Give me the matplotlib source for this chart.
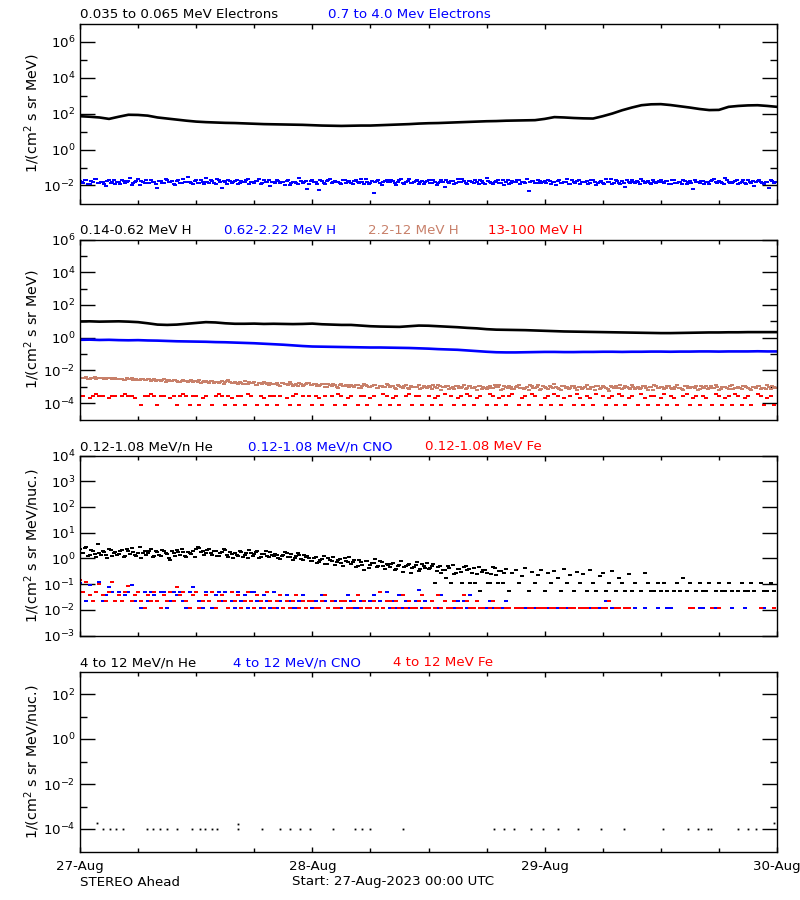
import numpy as np
import matplotlib
matplotlib.use('Agg')
import matplotlib.pyplot as plt
from matplotlib.ticker import FixedLocator, FixedFormatter, NullFormatter

N = np.nan

# ---------------- data (log10 of flux) ----------------
day_labels = ['27-Aug', '28-Aug', '29-Aug', '30-Aug']
day_hours = [0, 24, 48, 72]

# Panel 1: electrons (hourly line; 20-min samples, second set offset by 10 min)
elec_lo_log = [1.85, 1.82, 1.78, 1.70, 1.82, 1.93, 1.92, 1.88, 1.78, 1.72,
               1.66, 1.60, 1.55, 1.52, 1.50, 1.48, 1.47, 1.45, 1.43, 1.41,
               1.40, 1.39, 1.38, 1.37, 1.35, 1.33, 1.32, 1.31, 1.32, 1.33,
               1.33, 1.35, 1.37, 1.39, 1.41, 1.44, 1.46, 1.47, 1.49, 1.51,
               1.53, 1.55, 1.57, 1.58, 1.60, 1.61, 1.62, 1.63, 1.70, 1.80,
               1.78, 1.75, 1.73, 1.72, 1.85, 2.00, 2.18, 2.33, 2.46, 2.51,
               2.52, 2.47, 2.40, 2.33, 2.25, 2.19, 2.20, 2.37, 2.42, 2.45,
               2.46, 2.42, 2.37]

elec_hi_log = [-1.75, -1.85, -1.70, -1.92, -1.80, -1.66, -1.88, -1.78, -2.05, -1.72, -1.83, -1.90,
               -1.79, -1.68, -1.86, -1.74, -1.95, -1.81, -1.62, -1.77, -1.88, -1.84, -1.70, -1.79,
               -2.12, -1.76, -1.85, -1.69, -1.80, -1.91, -1.73, -1.87, -1.65, -1.82, -1.78, -1.94,
               -1.71, -1.86, -1.79, -1.58, -1.84, -1.76, -1.89, -1.72, -2.15, -1.81, -1.69, -1.85,
               -1.77, -1.92, -1.74, -1.83, -1.63, -1.80, -1.87, -1.75, -1.90, -1.70, -1.82, -2.02,
               -1.78, -1.67, -1.88, -1.81, -1.73, -1.96, -1.79, -1.84, -1.60, -1.86, -1.76, -1.89,
               -1.72, -1.83, -2.25, -1.77, -1.90, -1.68, -1.85, -1.74, -1.81, -1.93, -1.70, -1.79,
               -1.87, -1.75, -1.82, -1.64, -1.91, -1.78, -1.84, -2.42, -1.73, -1.88, -1.80, -1.69,
               -1.83, -1.76, -1.95, -1.71, -1.86, -1.79, -1.62, -1.85, -1.77, -1.90, -1.74, -1.81,
               -1.68, -1.88, -1.78, -1.84, -1.72, -2.08, -1.80, -1.75, -1.89, -1.66, -1.83, -1.77,
               -1.91, -1.73, -1.86, -1.79, -1.70, -1.85, -1.61, -1.82, -1.94, -1.76, -1.87, -1.72,
               -1.80, -1.92, -1.74, -1.83, -1.67, -1.79, -1.88, -2.32, -1.75, -1.84, -1.71, -1.86,
               -1.77, -1.69, -1.90, -1.81, -1.73, -1.86, -1.78, -1.64, -1.89, -1.80, -1.75, -1.93,
               -1.82, -1.74, -1.87, -1.70, -1.95, -1.79, -1.84, -1.66, -1.78, -1.91, -1.72, -1.85,
               -1.76, -2.10, -1.83, -1.71, -1.88, -1.80, -1.63, -1.86, -1.74, -1.90, -1.79, -1.82,
               -1.69, -1.85, -1.77, -1.93, -1.72, -1.84, -1.80, -1.67, -1.89, -1.75, -2.18, -1.81,
               -1.86, -1.73, -1.79, -1.91, -1.68, -1.83, -1.76, -1.88, -1.61, -1.80, -1.85, -1.74,
               -1.90, -1.78, -1.84, -1.70, -1.87, -2.05, -1.75, -1.82, -1.93, -1.79, -1.72, -1.86]

elec_hi_log_b = [-1.82, -1.71, -1.89, -1.77, -1.64, -1.86, -1.79, -1.93, -1.73, -1.84, -1.68, -1.81,
                 -1.90, -1.76, -1.83, -1.60, -1.87, -1.74, -1.98, -1.80, -1.69, -1.85, -1.78, -1.92,
                 -1.73, -1.88, -1.66, -1.81, -1.76, -1.95, -1.70, -1.84, -1.79, -1.52, -1.86, -1.75,
                 -1.84, -1.69, -1.91, -1.78, -1.72, -1.87, -1.63, -1.82, -1.77, -1.94, -1.74, -1.80,
                 -1.67, -1.85, -1.79, -1.72, -1.90, -1.81, -1.76, -1.65, -1.88, -1.83, -1.71, -1.79,
                 -1.86, -1.74, -1.81, -1.97, -1.69, -1.84, -1.78, -1.90, -1.73, -1.82, -2.20, -1.77,
                 -1.80, -1.91, -1.68, -1.85, -1.75, -1.62, -1.83, -1.79, -1.88, -1.71, -1.86, -1.74,
                 -1.93, -1.70, -1.84, -1.78, -1.66, -1.89, -1.76, -1.82, -1.69, -1.95, -1.75, -1.83,
                 -1.71, -1.87, -1.80, -1.64, -1.92, -1.74, -1.85, -1.79, -1.68, -1.83, -1.90, -1.76,
                 -1.85, -1.72, -1.96, -1.79, -1.81, -1.67, -1.88, -1.74, -1.84, -1.78, -1.63, -1.87,
                 -1.76, -1.83, -1.70, -1.89, -1.77, -1.92, -1.73, -1.86, -1.80, -1.69, -1.84, -1.95,
                 -1.69, -1.86, -1.79, -1.72, -1.91, -1.81, -1.65, -1.83, -1.77, -1.88, -1.74, -1.80,
                 -1.87, -1.75, -1.82, -1.98, -1.70, -1.84, -1.79, -1.91, -1.72, -1.85, -1.67, -1.81,
                 -1.78, -1.92, -1.71, -1.83, -1.86, -1.74, -1.89, -1.80, -1.62, -1.84, -1.77, -1.90,
                 -1.84, -1.69, -1.87, -1.79, -1.73, -1.93, -1.76, -1.82, -1.88, -1.70, -1.85, -1.75,
                 -1.81, -1.77, -1.90, -1.68, -1.85, -1.79, -1.94, -1.73, -1.82, -1.87, -1.71, -1.78,
                 -1.74, -1.89, -1.82, -1.76, -1.64, -1.86, -1.80, -1.93, -1.72, -1.84, -1.79, -1.68,
                 -1.85, -1.72, -1.91, -1.80, -1.76, -1.83, -1.69, -1.88, -1.78, -2.12, -1.74, -1.82]

# Panel 2: protons
h_lo_log = [0.99, 1.00, 0.98, 0.99, 1.00, 0.98, 0.95, 0.88, 0.80, 0.78,
            0.80, 0.85, 0.90, 0.95, 0.93, 0.88, 0.85, 0.85, 0.86, 0.84,
            0.85, 0.84, 0.83, 0.84, 0.86, 0.82, 0.80, 0.78, 0.78, 0.74,
            0.70, 0.68, 0.67, 0.66, 0.70, 0.74, 0.73, 0.70, 0.67, 0.64,
            0.60, 0.57, 0.52, 0.49, 0.48, 0.47, 0.46, 0.44, 0.42, 0.40,
            0.38, 0.37, 0.36, 0.35, 0.34, 0.33, 0.32, 0.31, 0.30, 0.29,
            0.28, 0.28, 0.29, 0.30, 0.31, 0.32, 0.32, 0.33, 0.33, 0.34,
            0.34, 0.34, 0.34]

h_mid_log = [-0.13, -0.12, -0.14, -0.13, -0.15, -0.16, -0.15, -0.17, -0.18, -0.20,
             -0.22, -0.23, -0.24, -0.25, -0.27, -0.28, -0.30, -0.32, -0.34, -0.37,
             -0.40, -0.43, -0.47, -0.51, -0.54, -0.55, -0.56, -0.57, -0.58, -0.59,
             -0.60, -0.60, -0.61, -0.62, -0.63, -0.65, -0.67, -0.70, -0.72, -0.74,
             -0.78, -0.82, -0.86, -0.89, -0.90, -0.90, -0.89, -0.88, -0.87, -0.87,
             -0.88, -0.88, -0.87, -0.87, -0.86, -0.86, -0.87, -0.86, -0.86, -0.85,
             -0.85, -0.86, -0.85, -0.85, -0.84, -0.84, -0.85, -0.84, -0.84, -0.84,
             -0.83, -0.84, -0.84]

h_hi_log = [-2.45, -2.48, -2.43, -2.50, -2.46, -2.52, -2.47, -2.44, -2.51, -2.49, -2.53, -2.48,
            -2.55, -2.50, -2.58, -2.52, -2.49, -2.56, -2.60, -2.53, -2.57, -2.51, -2.62, -2.55,
            -2.58, -2.65, -2.54, -2.61, -2.67, -2.57, -2.63, -2.70, -2.59, -2.66, -2.62, -2.72,
            -2.64, -2.58, -2.71, -2.67, -2.75, -2.62, -2.69, -2.78, -2.66, -2.73, -2.60, -2.76,
            -2.70, -2.82, -2.74, -2.67, -2.86, -2.77, -2.72, -2.90, -2.79, -2.68, -2.84, -2.75,
            -2.81, -2.74, -2.93, -2.78, -2.86, -2.72, -2.95, -2.83, -2.79, -2.98, -2.85, -2.76,
            -2.90, -2.82, -2.97, -2.86, -3.02, -2.80, -2.93, -2.88, -3.05, -2.84, -2.96, -2.91,
            -2.87, -3.00, -2.92, -3.08, -2.85, -2.97, -3.03, -2.89, -3.10, -2.94, -2.99, -2.86,
            -3.02, -2.93, -3.12, -2.96, -3.06, -2.88, -3.15, -2.99, -3.04, -2.91, -3.09, -3.00,
            -2.95, -3.11, -3.03, -2.90, -3.18, -3.01, -2.94, -3.07, -3.13, -2.97, -3.05, -2.89,
            -3.10, -2.98, -3.06, -3.20, -2.93, -3.04, -3.12, -2.96, -3.08, -3.00, -2.87, -3.14,
            -3.03, -2.95, -3.16, -3.01, -2.91, -3.09, -3.05, -3.22, -2.97, -3.07, -2.92, -3.11,
            -2.99, -3.13, -3.04, -2.86, -3.08, -3.17, -2.96, -3.02, -3.10, -2.94, -3.19, -3.01,
            -3.06, -2.90, -3.11, -3.03, -2.98, -3.15, -2.93, -3.07, -3.24, -3.00, -2.95, -3.09,
            -3.12, -2.97, -3.05, -2.88, -3.14, -3.02, -3.08, -2.96, -3.18, -3.04, -2.91, -3.10,
            -3.00, -3.16, -2.94, -3.07, -3.11, -2.89, -3.05, -3.20, -2.98, -3.09, -3.03, -2.93,
            -3.13, -3.01, -2.96, -3.10, -3.06, -2.92, -3.17, -3.04, -2.99, -3.12, -2.87, -3.07,
            -3.02, -3.14, -2.95, -3.08, -3.21, -3.00, -2.94, -3.11, -3.05, -2.90, -3.15, -3.03]

h_hi_log_b = [-2.47, -2.44, -2.50, -2.46, -2.42, -2.49, -2.45, -2.52, -2.48, -2.46, -2.51, -2.54,
              -2.52, -2.57, -2.49, -2.54, -2.59, -2.51, -2.56, -2.53, -2.61, -2.55, -2.58, -2.63,
              -2.61, -2.56, -2.68, -2.60, -2.64, -2.58, -2.69, -2.63, -2.66, -2.72, -2.60, -2.67,
              -2.69, -2.74, -2.63, -2.70, -2.66, -2.77, -2.68, -2.72, -2.80, -2.65, -2.71, -2.74,
              -2.77, -2.71, -2.80, -2.85, -2.73, -2.79, -2.88, -2.74, -2.81, -2.76, -2.87, -2.80,
              -2.84, -2.89, -2.77, -2.83, -2.91, -2.80, -2.87, -2.94, -2.82, -2.88, -2.78, -2.92,
              -2.86, -2.94, -2.89, -2.83, -2.99, -2.91, -2.85, -3.01, -2.90, -2.95, -2.87, -3.04,
              -2.93, -2.88, -3.05, -2.96, -2.91, -3.02, -2.98, -2.90, -3.07, -2.95, -3.01, -2.92,
              -2.98, -3.05, -2.92, -3.01, -2.97, -3.10, -2.94, -3.03, -2.99, -3.13, -2.96, -3.06,
              -3.01, -2.92, -3.08, -2.98, -3.04, -2.93, -3.11, -3.00, -2.95, -3.09, -3.02, -3.16,
              -2.96, -3.07, -3.01, -2.94, -3.13, -3.05, -2.99, -3.10, -2.91, -3.04, -3.18, -2.97,
              -3.08, -3.00, -3.12, -2.95, -3.06, -3.14, -3.02, -2.92, -3.09, -3.04, -3.19, -2.98,
              -3.05, -2.93, -3.10, -3.02, -3.16, -2.97, -3.07, -3.12, -2.94, -3.05, -3.01, -3.14,
              -2.99, -3.11, -3.04, -3.21, -2.95, -3.08, -3.01, -3.13, -2.97, -3.06, -3.10, -2.92,
              -3.07, -3.02, -3.15, -2.99, -3.05, -3.11, -2.93, -3.09, -3.03, -3.17, -2.98, -3.06,
              -3.04, -3.09, -2.97, -3.13, -3.01, -3.07, -3.15, -2.95, -3.10, -3.02, -3.08, -3.19,
              -2.98, -3.06, -3.12, -2.94, -3.09, -3.03, -3.16, -3.00, -3.07, -2.93, -3.11, -3.05,
              -3.09, -2.97, -3.04, -3.14, -3.00, -3.10, -2.96, -3.06, -3.13, -3.01, -2.95, -3.08]

h_top_log = [-3.58, -3.58, N, -3.67, -3.58, -3.42, -3.58, -3.58, N, -3.67, -3.58, -3.58,
             N, -3.58, -3.42, -3.58, -3.58, -3.67, N, -4.13, -3.58, -3.58, -3.42, -3.58,
             -4.13, -3.58, -3.58, N, -3.67, -3.58, -4.13, -3.58, -3.42, -3.58, -4.13, -3.58,
             -3.58, -4.13, -3.67, -3.58, N, -4.13, -3.58, -3.42, -3.58, -4.13, -3.58, -3.67,
             -4.13, -3.58, -3.58, -4.13, -3.42, -3.58, N, -4.13, -3.58, -3.67, -4.13, -3.58,
             -3.58, -4.13, -3.58, N, -3.67, -4.13, -3.58, -3.42, -4.13, -3.58, N, -3.58,
             -4.13, -3.58, -3.67, -4.13, -3.58, N, -3.58, -4.13, -3.42, -3.58, -4.13, -3.67,
             -3.58, N, -4.13, -3.58, -3.58, -4.13, -3.67, -3.58, N, -4.13, -3.42, -3.58,
             -4.13, -3.67, -3.58, -4.13, N, -3.58, -3.42, -4.13, -3.58, -3.58, -4.13, N,
             -3.58, -4.13, -3.67, -3.58, -4.13, -3.42, N, -3.58, -4.13, -3.67, -3.58, -4.13,
             -3.42, -3.58, -4.13, -3.67, -3.58, N, -4.13, -3.42, -3.58, -4.13, -3.67, -3.58,
             -4.13, -3.58, -3.42, N, -4.13, -3.67, -3.58, -4.13, -3.42, -3.58, N, -4.13,
             -3.67, -3.58, -4.13, -3.42, -3.58, -4.13, -3.67, N, -3.58, -4.13, -3.42, -3.67,
             -4.13, -3.58, -3.67, -4.13, -3.42, N, -3.58, -4.13, -3.67, -3.58, -4.13, -3.42,
             -3.58, -4.13, -3.67, -3.58, N, -4.13, -3.42, -3.67, -4.13, -3.58, -3.58, -4.13,
             -3.67, -3.42, -4.13, -3.58, -3.67, -4.13, N, -3.58, -3.42, -4.13, -3.67, -3.58,
             -4.13, -3.58, -3.67, N, -4.13, -3.42, -3.58, -4.13, -3.67, -3.58, -4.13, -3.42,
             -3.58, -4.13, -3.67, -3.58, -4.13, N, -3.42, -3.58, -4.13, -3.67, -3.58, -4.13]

# Panel 3: low-energy heavy ions
he_lo_log = [0.35, 0.20, 0.45, 0.12, 0.28, 0.05, 0.22, 0.30, 0.15, 0.38, 0.10, 0.25,
             0.18, 0.32, 0.08, 0.27, 0.40, 0.14, 0.22, 0.03, 0.30, 0.19, 0.35, 0.11,
             0.24, 0.09, 0.29, 0.16, -0.05, 0.21, 0.33, 0.12, 0.26, 0.07, 0.19, 0.28,
             0.38, 0.42, 0.30, 0.22, 0.35, 0.15, 0.27, 0.10, 0.24, 0.31, 0.05, 0.18,
             0.20, 0.08, 0.25, 0.13, 0.02, 0.22, 0.16, 0.28, 0.06, 0.17, 0.11, 0.23,
             0.09, 0.15, -0.02, 0.12, 0.20, 0.04, -0.08, 0.10, 0.14, -0.05, 0.07, 0.01,
             -0.10, 0.05, -0.15, -0.03, -0.20, 0.02, -0.12, -0.25, -0.06, -0.18, 0.00, -0.14,
             -0.22, -0.08, -0.30, -0.16, -0.45, -0.12, -0.26, -0.19, -0.35, -0.10, -0.28, -0.21,
             -0.33, -0.17, -0.40, -0.25, -0.52, -0.30, -0.20, -0.38, -0.27, -0.48, -0.23, -0.36,
             -0.42, -0.28, -0.96, -0.35, -0.57, -0.45, -0.30, -0.96, -0.62, -0.40, -0.52, -0.33,
             -0.47, -0.96, -0.38, -0.60, -1.27, -0.44, -0.55, -0.96, -0.35, -0.66, -0.50, -0.96,
             -0.41, -1.27, -0.58, -0.45, -0.96, -0.70, -0.38, -1.27, -0.52, -0.96, -0.63, -0.44,
             -1.27, -0.55, -0.96, -0.48, -0.78, -1.27, -0.40, -0.96, -0.66, -1.27, -0.52, -0.96,
             -0.60, -1.27, -0.45, -0.96, -1.27, -0.70, -0.57, -1.27, -0.96, -0.48, -1.27, -0.78,
             -0.96, -1.27, -0.62, -1.27, -0.96, N, -1.27, -0.57, -0.96, -1.27, -1.27, -0.96,
             -1.27, -0.96, -1.27, N, -1.27, -0.96, -1.27, -0.78, -1.27, -0.96, N, -1.27,
             -0.96, -1.27, -1.27, -0.96, N, -1.27, -0.96, -1.27, -1.27, -0.96, -1.27, N,
             -1.27, -0.96, -1.27, -1.27, -0.96, -1.27, N, -0.96, -1.27, -1.27, -0.96, -1.27]

he_lo_log_b = [0.22, 0.40, 0.08, 0.31, 0.18, 0.55, 0.14, 0.26, 0.02, 0.33, 0.20, 0.12,
               0.29, 0.06, 0.36, 0.17, 0.24, 0.10, 0.43, 0.21, 0.13, 0.27, 0.04, 0.30,
               0.15, 0.34, 0.20, 0.00, 0.28, 0.11, 0.23, 0.37, 0.09, 0.25, 0.16, 0.06,
               0.46, 0.26, 0.12, 0.33, 0.19, 0.29, 0.08, 0.21, 0.36, 0.14, 0.24, 0.03,
               0.14, 0.27, 0.05, 0.19, 0.31, 0.10, 0.24, 0.00, 0.18, 0.29, 0.07, 0.13,
               0.18, 0.00, 0.11, 0.24, 0.06, 0.16, 0.02, 0.21, -0.03, 0.13, 0.08, -0.10,
               0.03, -0.18, -0.05, 0.08, -0.22, -0.08, 0.06, -0.14, -0.02, -0.28, -0.09, 0.04,
               -0.15, -0.33, -0.05, -0.24, -0.12, -0.38, -0.18, -0.03, -0.29, -0.14, -0.40, -0.25,
               -0.22, -0.44, -0.28, -0.10, -0.35, -0.24, -0.58, -0.32, -0.15, -0.43, -0.30, -0.19,
               -0.37, -0.22, -0.50, -0.31, -0.44, -0.78, -0.36, -0.25, -0.55, -0.41, -0.96, -0.30,
               -0.40, -0.57, -0.96, -0.33, -0.52, -0.45, -0.96, -0.62, -0.38, -0.96, -0.48, -0.57]

cno_lo_log = [-0.95, -1.31, -1.64, -1.02, -1.64, -1.31, -0.92, -1.64, -1.44, -1.10, -1.31, -1.64,
              -1.31, -1.64, -1.44, -1.31, -1.05, -1.64, -1.31, -1.94, -1.31, -1.64, -1.31, -1.44,
              -1.64, -1.31, -1.31, -1.94, -1.64, -1.31, -1.44, -1.31, -1.64, -1.94, -1.31, -1.12,
              -1.31, -1.64, -1.94, -1.31, -1.64, -1.94, -1.44, -1.31, -1.64, -1.31, -1.94, -1.64,
              -1.94, -1.31, -1.64, -1.44, -1.94, -1.31, -1.31, -1.64, -1.94, -1.44, -1.64, -1.94,
              -1.31, -1.94, -1.64, -1.94, -1.44, -1.64, -1.94, -1.94, -1.64, -1.44, -1.94, -1.64,
              -1.94, -1.64, -1.94, -1.44, -1.64, -1.94, N, -1.64, -1.94, -1.94, -1.64, -1.44,
              -1.64, -1.94, -1.94, -1.64, N, -1.94, -1.64, -1.44, -1.94, -1.64, -1.94, -1.31,
              -1.94, -1.64, -1.94, -1.44, -1.94, -1.64, -1.94, -1.94, -1.64, -1.22, -1.94, -1.64,
              -1.94, -1.64, -1.94, -1.94, -1.44, -1.64, -1.94, N, -1.94, -1.64, -1.94, -1.64,
              -1.94, -1.44, -1.94, -1.64, -1.94, N, -1.94, -1.64, -1.94, -1.94, N, -1.94,
              -1.64, -1.94, N, -1.94, -1.94, N, -1.94, N, -1.94, -1.94, N, -1.94,
              N, -1.94, -1.94, N, -1.94, N, -1.94, -1.94, N, -1.94, N, -1.94,
              -1.94, N, -1.94, N, -1.94, -1.94, N, -1.64, N, -1.94, N, -1.94,
              N, -1.94, N, N, -1.94, N, N, -1.94, N, N, N, -1.94,
              N, N, -1.94, -1.94, N, N, N, N, N, -1.94, N, N,
              -1.94, -1.94, N, N, N, -1.94, -1.94, N, N, N, -1.94, N,
              N, N, -1.94, N, N, N, N, N, -1.94, N, N, N]

fe_lo_log = [-0.85, -1.31, -0.90, -1.44, -1.64, -1.31, -1.00, -1.44, -1.64, -1.31, -0.92, -1.64,
             -1.44, -1.64, -1.31, -1.08, -1.64, -1.44, -1.31, -1.64, -1.94, -1.44, -1.64, -1.31,
             -1.64, -1.94, -1.44, -1.64, -1.31, -1.64, -1.12, -1.44, -1.31, -1.64, -1.94, -1.44,
             -1.31, -1.94, -1.64, -1.44, -1.64, -1.31, -1.94, -1.64, -1.44, -1.64, -1.94, -1.31,
             -1.64, -1.44, -1.94, -1.64, -1.31, -1.64, -1.94, -1.44, -1.64, -1.94, -1.31, -1.64,
             -1.94, -1.64, -1.44, -1.94, -1.64, -1.94, -1.64, -1.44, -1.94, -1.64, -1.94, -1.64,
             -1.64, -1.94, -1.94, -1.64, -1.44, -1.94, -1.64, -1.94, -1.94, -1.64, -1.64, -1.94,
             -1.94, -1.64, -1.44, -1.94, -1.64, -1.94, -1.94, -1.64, -1.94, -1.31, -1.94, -1.64,
             -1.64, -1.94, -1.64, -1.94, -1.44, -1.94, -1.64, -1.94, -1.94, -1.64, -1.44, -1.94,
             -1.94, -1.64, -1.94, -1.44, -1.94, -1.64, -1.94, -1.94, -1.64, -1.94, -1.94, -1.44,
             -1.64, -1.94, -1.94, -1.64, -1.94, -1.94, N, -1.94, -1.64, -1.94, -1.94, N,
             -1.94, -1.94, N, -1.94, -1.94, -1.94, N, -1.94, -1.94, N, -1.94, -1.94,
             -1.94, N, -1.94, -1.94, N, -1.94, -1.94, N, -1.94, -1.94, N, -1.94,
             -1.94, -1.94, N, -1.94, -1.94, N, -1.94, -1.94, -1.64, N, -1.94, -1.94,
             N, -1.94, -1.94, N, N, N, N, N, N, N, N, N,
             N, N, N, N, N, N, N, N, N, -1.94, -1.94, N,
             N, N, N, N, -1.94, N, -1.94, N, N, N, N, N,
             N, N, N, N, N, N, N, -1.94, N, N, N, -1.94]

# Panel 4: 4-12 MeV/n He (hours, log10 flux)
he_hi_t = [1.76, 2.38, 3.10, 3.72, 4.45, 6.93, 7.55, 8.28, 9.00, 10.03, 11.59, 12.41,
           12.93, 13.66, 14.17, 16.34, 16.34, 18.83, 20.69, 21.72, 22.76, 23.79, 26.17,
           28.45, 29.17, 30.00, 33.41, 42.72, 43.76, 44.79, 46.55, 47.79, 49.34, 51.41,
           53.79, 56.17, 60.21, 62.79, 63.83, 64.86, 65.17, 67.97, 69.00, 69.83, 71.69]
he_hi_log = [-3.74, -4.0, -4.0, -4.0, -4.0, -4.0, -4.0, -4.0, -4.0, -4.0, -4.0, -4.0,
             -4.0, -4.0, -4.0, -3.78, -4.0, -4.0, -4.0, -4.0, -4.0, -4.0, -4.0,
             -4.0, -4.0, -4.0, -4.0, -4.0, -4.0, -4.0, -4.0, -4.0, -4.0, -4.0,
             -4.0, -4.0, -4.0, -4.0, -4.0, -4.0, -4.0, -4.0, -4.0, -4.0, -3.72]

# Axis ranges, ticks and labels per panel
ylims = [(1e-3, 1e7), (1e-5, 1e6), (1e-3, 1e4), (1e-5, 1e3)]
major_exp = [[-2, 0, 2, 4, 6], [-4, -2, 0, 2, 4, 6], [-3, -2, -1, 0, 1, 2, 3, 4], [-4, -2, 0, 2]]
minor_exp = [[-1, 1, 3, 5], [-3, -1, 1, 3, 5], [], [-3, -1, 1]]
ylabels = ['1/(cm$^2$ s sr MeV)', '1/(cm$^2$ s sr MeV)',
           '1/(cm$^2$ s sr MeV/nuc.)', '1/(cm$^2$ s sr MeV/nuc.)']
titles = [[('0.035 to 0.065 MeV Electrons', 'black', 80), ('0.7 to 4.0 Mev Electrons', 'blue', 328)],
          [('0.14-0.62 MeV H', 'black', 80), ('0.62-2.22 MeV H', 'blue', 224),
           ('2.2-12 MeV H', '#C8806A', 368), ('13-100 MeV H', 'red', 488)],
          [('0.12-1.08 MeV/n He', 'black', 80), ('0.12-1.08 MeV/n CNO', 'blue', 248),
           ('0.12-1.08 MeV Fe', 'red', 425)],
          [('4 to 12 MeV/n He', 'black', 80), ('4 to 12 MeV/n CNO', 'blue', 233),
           ('4 to 12 MeV Fe', 'red', 393)]]

# ---------------- figure ----------------
W, H = 800, 900
FS = 9.6
plt.rcParams['font.family'] = ['DejaVu Sans']
plt.rcParams['mathtext.fontset'] = 'dejavusans'
fig = plt.figure(figsize=(W / 100, H / 100), dpi=100)

tops = [23.5 + 216 * i for i in range(4)]
axes = []
for i, top in enumerate(tops):
    ax = fig.add_axes([80 / W, 1 - (top + 180) / H, 697 / W, 180 / H])
    ax.set_yscale('log')
    ax.set_ylim(*ylims[i])
    ax.set_xlim(0, 72)
    ax.yaxis.set_major_locator(FixedLocator([10.0 ** e for e in major_exp[i]]))
    ax.yaxis.set_major_formatter(FixedFormatter(['10$^{%d}$' % e for e in major_exp[i]]))
    ax.yaxis.set_minor_locator(FixedLocator([10.0 ** e for e in minor_exp[i]]))
    ax.yaxis.set_minor_formatter(NullFormatter())
    ax.xaxis.set_major_locator(FixedLocator(day_hours))
    ax.xaxis.set_minor_locator(FixedLocator([h for h in range(6, 72, 6) if h % 24]))
    ax.xaxis.set_minor_formatter(NullFormatter())
    if i == 3:
        ax.xaxis.set_major_formatter(FixedFormatter(day_labels))
    else:
        ax.xaxis.set_major_formatter(NullFormatter())
    ax.tick_params(which='both', direction='in', top=True, right=True, labelsize=FS, width=1.0)
    ax.tick_params(axis='y', which='major', length=10.8, pad=3.5)
    ax.tick_params(axis='y', which='minor', length=5.2)
    ax.tick_params(axis='x', which='major', length=3.6, pad=6)
    ax.tick_params(axis='x', which='minor', length=3.0)
    for s in ax.spines.values():
        s.set_linewidth(1.0)
    ax.set_ylabel(ylabels[i], fontsize=10.3)
    ax.yaxis.set_label_coords(-0.0545, 0.5)
    for txt, col, xp in titles[i]:
        fig.text(xp / W, 1 - (top - 5.5) / H, txt, color=col, fontsize=FS,
                 ha='left', va='baseline')
    axes.append(ax)

# short horizontal dash marker (about 3 x 2 px), like the dense IDL dots
dash = [(-1, -0.6), (1, -0.6), (1, 0.6), (-1, 0.6), (-1, -0.6)]
mk = dict(ls='none', marker=dash, ms=2.3, mew=0)

t20 = lambda v, off=0.0: np.arange(len(v)) / 3.0 + off

ax = axes[0]
ax.plot(np.arange(len(elec_lo_log)), 10.0 ** np.array(elec_lo_log), color='black', lw=1.9)
ax.plot(t20(elec_hi_log), 10.0 ** np.array(elec_hi_log), color='blue', **mk)
ax.plot(t20(elec_hi_log_b, 1 / 6), 10.0 ** np.array(elec_hi_log_b), color='blue', **mk)

ax = axes[1]
ax.plot(np.arange(len(h_lo_log)), 10.0 ** np.array(h_lo_log), color='black', lw=1.9)
ax.plot(np.arange(len(h_mid_log)), 10.0 ** np.array(h_mid_log), color='blue', lw=1.9)
ax.plot(t20(h_hi_log), 10.0 ** np.array(h_hi_log), color='#C8806A', **mk)
ax.plot(t20(h_hi_log_b, 1 / 6), 10.0 ** np.array(h_hi_log_b), color='#C8806A', **mk)
ax.plot(t20(h_top_log), 10.0 ** np.array(h_top_log), color='red', **mk)

ax = axes[2]
ax.plot(t20(he_lo_log), 10.0 ** np.array(he_lo_log), color='black', **mk)
ax.plot(t20(he_lo_log_b, 1 / 6), 10.0 ** np.array(he_lo_log_b), color='black', **mk)
ax.plot(t20(cno_lo_log), 10.0 ** np.array(cno_lo_log), color='blue', **mk)
ax.plot(t20(fe_lo_log), 10.0 ** np.array(fe_lo_log), color='red', **mk)

ax = axes[3]
ax.plot(he_hi_t, 10.0 ** np.array(he_hi_log), ls='none', marker='s', ms=1.3, mew=0, color='black')

fig.text(80 / W, 1 - 885.5 / H, 'STEREO Ahead', fontsize=FS, ha='left', va='baseline')
fig.text(292 / W, 1 - 885.5 / H, 'Start: 27-Aug-2023 00:00 UTC', fontsize=FS, ha='left', va='baseline')

fig.savefig('out.png', dpi=100)
